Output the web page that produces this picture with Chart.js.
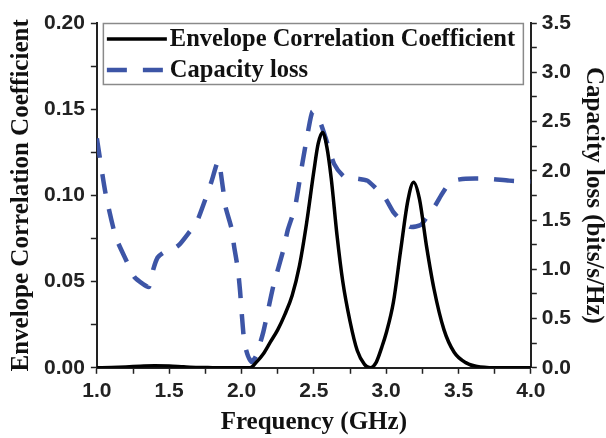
<!DOCTYPE html>
<html>
<head>
<meta charset="utf-8">
<title>ECC and capacity loss</title>
<script src="https://cdn.jsdelivr.net/npm/chart.js@4.4.0/dist/chart.umd.min.js"></script>
<style>
  html, body {margin: 0; padding: 0; background: #fff;}
  #wrap {width: 606px; height: 438px;}
</style>
</head>
<body>
<div id="wrap"><canvas id="myChart" width="606" height="438"></canvas></div>
<script>
// envelope correlation coefficient (left axis)
var eccFreq = [1.0, 1.1, 1.2, 1.3, 1.4, 1.5, 1.6, 1.7, 1.8, 1.9, 2.0, 2.06, 2.1, 2.15, 2.2, 2.25, 2.3, 2.35, 2.4, 2.45, 2.5, 2.53, 2.56, 2.59, 2.62, 2.66, 2.7, 2.75, 2.8, 2.85, 2.89, 2.93, 2.97, 3.0, 3.05, 3.1, 3.15, 3.19, 3.23, 3.28, 3.33, 3.4, 3.47, 3.55, 3.65, 3.8, 4.0];
var eccVal = [0, 0.0002, 0.0005, 0.0009, 0.0012, 0.0011, 0.0006, 0.0002, 0.0001, 0, 0, 0, 0.003, 0.008, 0.015, 0.022, 0.031, 0.042, 0.059, 0.084, 0.114, 0.130, 0.1365, 0.128, 0.110, 0.077, 0.050, 0.027, 0.010, 0.002, 0, 0.003, 0.012, 0.020, 0.038, 0.068, 0.097, 0.1077, 0.098, 0.070, 0.046, 0.022, 0.009, 0.003, 0.0005, 0, 0];

// capacity loss (right axis)
var capFreq = [1.0, 1.06, 1.13, 1.2, 1.26, 1.32, 1.36, 1.39, 1.42, 1.46, 1.52, 1.57, 1.63, 1.69, 1.74, 1.79, 1.84, 1.87, 1.89, 1.93, 1.95, 1.975, 1.99, 2.0, 2.02, 2.045, 2.07, 2.1, 2.15, 2.22, 2.29, 2.32, 2.37, 2.42, 2.46, 2.49, 2.52, 2.55, 2.58, 2.64, 2.71, 2.8, 2.87, 2.93, 2.99, 3.05, 3.1, 3.17, 3.24, 3.29, 3.34, 3.38, 3.42, 3.47, 3.55, 3.7, 3.85, 4.0];
var capVal = [2.33, 1.77, 1.33, 1.10, 0.92, 0.85, 0.82, 1.00, 1.12, 1.17, 1.20, 1.25, 1.36, 1.48, 1.67, 1.88, 2.10, 1.84, 1.63, 1.42, 1.22, 1.00, 0.78, 0.58, 0.25, 0.12, 0.06, 0.12, 0.36, 0.83, 1.20, 1.40, 1.63, 2.07, 2.40, 2.60, 2.56, 2.47, 2.34, 2.07, 1.94, 1.92, 1.90, 1.82, 1.73, 1.58, 1.50, 1.43, 1.45, 1.55, 1.65, 1.75, 1.84, 1.90, 1.92, 1.92, 1.90, 1.89];

var seriesNames = ['Envelope Correlation Coefficient', 'Capacity loss'];
var xTitle = 'Frequency (GHz)';
var yLeftTitle = 'Envelope Correlation Coefficient';
var yRightTitle = 'Capacity loss (bits/s/Hz)';

function toPoints(xs, ys) {
  var pts = [];
  for (var i = 0; i < xs.length; i++) pts.push({x: xs[i], y: ys[i]});
  return pts;
}

function isMajor(v, step) {
  var r = v / step;
  return Math.abs(r - Math.round(r)) < 1e-6;
}

var serif = '"Liberation Serif", "Times New Roman", serif';
var sans = '"Liberation Sans", Arial, sans-serif';
var blue = '#3d55a6';

// legend in a box inside the plot
var boxLegend = {
  id: 'boxLegend',
  afterDraw: function(chart) {
    var ctx = chart.ctx;
    var a = chart.chartArea;
    var x0 = a.left + 6, y0 = a.top, w = 420, h = 61;
    ctx.save();
    ctx.strokeStyle = '#8a8a8a';
    ctx.lineWidth = 1.5;
    ctx.strokeRect(x0 + 0.5, y0 + 0.5, w, h);
    var rows = [y0 + 16, y0 + 47];
    chart.data.datasets.forEach(function(ds, i) {
      ctx.beginPath();
      ctx.strokeStyle = ds.borderColor;
      ctx.lineWidth = ds.borderWidth;
      ctx.setLineDash(ds.borderDash || []);
      ctx.moveTo(x0 + 4, rows[i]);
      ctx.lineTo(x0 + 64, rows[i]);
      ctx.stroke();
      ctx.setLineDash([]);
      ctx.fillStyle = '#111';
      ctx.font = 'bold 24.5px ' + serif;
      ctx.textBaseline = 'middle';
      ctx.textAlign = 'left';
      ctx.fillText(ds.label, x0 + 67, rows[i] + 1);
    });
    ctx.restore();
  }
};

var ctx = document.getElementById('myChart').getContext('2d');
var chart = new Chart(ctx, {
  type: 'line',
  data: {
    datasets: [{
      label: seriesNames[0],
      data: toPoints(eccFreq, eccVal),
      yAxisID: 'y',
      borderColor: '#000',
      borderWidth: 3.5,
      pointRadius: 0,
      cubicInterpolationMode: 'monotone'
    }, {
      label: seriesNames[1],
      data: toPoints(capFreq, capVal),
      yAxisID: 'y2',
      borderColor: blue,
      borderWidth: 4.5,
      borderDash: [20, 16],
      pointRadius: 0,
      tension: 0.2
    }]
  },
  options: {
    responsive: false,
    animation: false,
    layout: {padding: {top: 23, left: 0, right: 0, bottom: 0}},
    plugins: {legend: {display: false}, tooltip: {enabled: false}},
    scales: {
      x: {
        type: 'linear',
        min: 1, max: 4,
        grid: {drawOnChartArea: false, tickLength: 6, tickColor: '#222', tickWidth: 1.5},
        border: {display: true, color: '#222', width: 2},
        ticks: {
          stepSize: 0.25, padding: 5, color: '#222', maxRotation: 0, autoSkip: false,
          font: {family: sans, size: 21, weight: 'bold'},
          callback: function(v) { return isMajor(v, 0.5) ? v.toFixed(1) : ''; }
        },
        title: {display: true, text: xTitle, color: '#111',
          font: {family: serif, size: 25, weight: 'bold', lineHeight: 1},
          padding: {top: 1, bottom: 3}}
      },
      y: {
        position: 'left',
        min: 0, max: 0.2,
        grid: {drawOnChartArea: false, tickLength: 6, tickColor: '#222', tickWidth: 1.5},
        border: {display: true, color: '#222', width: 2},
        ticks: {
          stepSize: 0.025, padding: 6, color: '#222', autoSkip: false,
          font: {family: sans, size: 21, weight: 'bold'},
          callback: function(v) { return isMajor(v, 0.05) ? v.toFixed(2) : ''; }
        },
        title: {display: true, text: yLeftTitle, color: '#111',
          font: {family: serif, size: 25, weight: 'bold', lineHeight: 1},
          padding: {top: 9, bottom: 4}}
      },
      y2: {
        position: 'right',
        min: 0, max: 3.5,
        grid: {drawOnChartArea: false, tickLength: 6, tickColor: '#222', tickWidth: 1.5},
        border: {display: true, color: '#222', width: 2},
        ticks: {
          stepSize: 0.25, padding: 5, color: '#222', autoSkip: false,
          font: {family: sans, size: 21, weight: 'bold'},
          callback: function(v) { return isMajor(v, 0.5) ? v.toFixed(1) : ''; }
        },
        title: {display: true, text: yRightTitle, color: '#111',
          font: {family: serif, size: 25, weight: 'bold', lineHeight: 1},
          padding: {top: 0, bottom: 5}}
      }
    }
  },
  plugins: [boxLegend]
});
</script>
</body>
</html>
